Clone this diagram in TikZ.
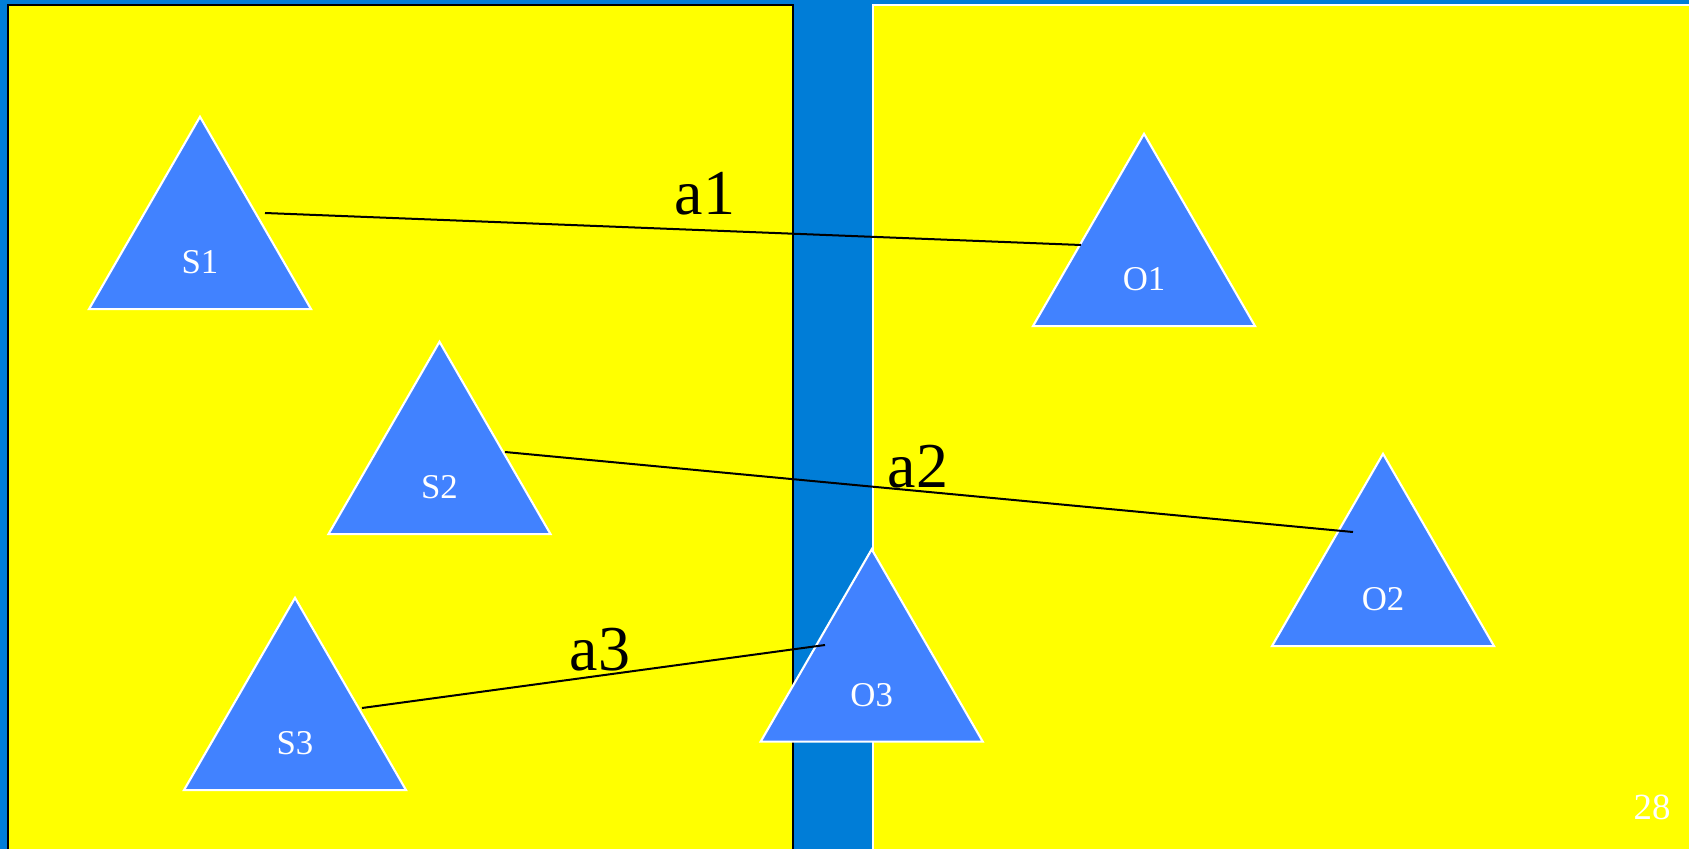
\documentclass[tikz,border=0pt]{standalone}
\usepackage{fontspec}
\setmainfont{Liberation Serif}
\usetikzlibrary{shapes.geometric}

\definecolor{slideblue}{RGB}{0,125,215}
\definecolor{panelyellow}{RGB}{255,255,0}
\definecolor{tribblue}{RGB}{65,130,255}

\tikzset{
  panel/.style={fill=panelyellow, line width=0.55pt},
  tri/.style={shape=regular polygon, regular polygon sides=3, minimum size=2.564cm,
    inner sep=0pt, fill=tribblue, draw=white, line width=0.6pt,
    label={[text=white, font=\fontsize{9.9}{11}\selectfont, yshift=-0.175cm]center:#1}},
  arclbl/.style={font=\fontsize{18.2}{20}\selectfont, inner sep=0pt},
  link/.style={black, line width=0.57pt}
}

\begin{document}
\begin{tikzpicture}
  \useasboundingbox (0,0) rectangle (16.89,-8.49);
  \clip (0,0) rectangle (16.89,-8.49);
  \fill[slideblue] (0,0) rectangle (16.89,-8.49);
  % the two panels
  \draw[panel, draw=black] (0.08,-0.05) rectangle (7.93,-8.70);
  \draw[panel, draw=white] (8.73,-0.05) rectangle (17.10,-8.70);
  % subjects
  \node[tri=S1] (S1) at (2.00,-2.45) {};
  \node[tri=S2] (S2) at (4.395,-4.70) {};
  \node[tri=S3] (S3) at (2.95,-7.26) {};
  % objects
  \node[tri=O1] (O1) at (11.44,-2.62) {};
  \node[tri=O2] (O2) at (13.83,-5.82) {};
  \node[tri=O3] (O3) at (8.717,-6.775) {};
  % access lines
  \coordinate (a1s) at (2.65,-2.13);
  \coordinate (a1e) at (10.81,-2.45);
  \coordinate (a2s) at (5.05,-4.52);
  \coordinate (a2e) at (13.53,-5.32);
  \coordinate (a3s) at (3.62,-7.08);
  \coordinate (a3e) at (8.25,-6.45);
  \draw[link] (a1s) -- (a1e);
  \draw[link] (a2s) -- (a2e);
  \draw[link] (a3s) -- (a3e);
  \node[arclbl] (a1) at (7.05,-1.94) {a1};
  \node[arclbl] (a2) at (9.18,-4.67) {a2};
  \node[arclbl] (a3) at (6.00,-6.50) {a3};
  % page number
  \node[text=white, font=\fontsize{10.5}{12}\selectfont] (pg) at (16.52,-8.07) {28};
\end{tikzpicture}
\end{document}
